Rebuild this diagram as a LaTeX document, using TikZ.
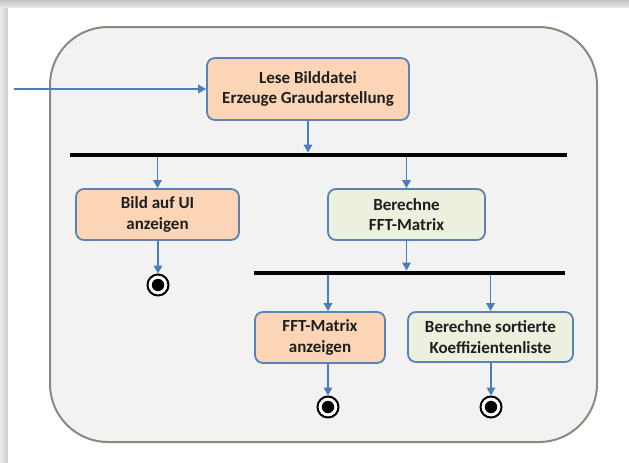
\documentclass[tikz,border=0pt]{standalone}
\usepackage{fontspec}
\setmainfont{Carlito}
\usetikzlibrary{arrows.meta}
\definecolor{framefill}{HTML}{F2F2F2}
\definecolor{frameline}{HTML}{8A8A7C}
\definecolor{peach}{HTML}{FBD5B5}
\definecolor{palegreen}{HTML}{EBF1DE}
\definecolor{boxline}{HTML}{5A82B6}
\definecolor{flowblue}{HTML}{4A7EBB}
\definecolor{ink}{HTML}{1E1E1E}
\tikzset{
  action/.style={draw=boxline, line width=1.8pt, rounded corners=8pt,
    align=center, font=\bfseries\fontsize{17}{20.5}\selectfont, text=ink,
    inner sep=0pt},
  calc/.style={action, fill=palegreen},
  show/.style={action, fill=peach},
  forkbar/.style={fill=black, inner sep=0pt, minimum height=4.5pt},
  final/.style={circle, draw=black, line width=2pt, fill=white,
    minimum size=21pt, inner sep=0pt,
    path picture={\fill[black] (path picture bounding box.center) circle (6.2);}},
  flow/.style={draw=flowblue, line width=1.8pt,
    -{Triangle[length=8pt,width=8.5pt]}},
}
\begin{document}
\begin{tikzpicture}[x=1pt,y=-1pt]
  \useasboundingbox (0,0) rectangle (629,463);
  % page card with soft shadow on top and left
  \fill[white] (0,0) rectangle (629,463);
  \shade[top color=gray!45, bottom color=gray!15] (0,0) rectangle (629,8);
  \shade[left color=gray!15, right color=gray!40] (0,8) rectangle (8,463);
  \fill[white] (8,8) rectangle (629,463);

  % activity frame
  \draw[fill=framefill, draw=frameline, line width=2pt, rounded corners=58pt]
    (50,27) rectangle (597,442);

  % actions
  \node[show, minimum width=202pt, minimum height=62pt] (read) at (308,89)
    {Lese Bilddatei\\Erzeuge Graudarstellung};
  \node[show, minimum width=163pt, minimum height=51pt] (ui) at (157.5,214.5)
    {Bild auf UI\\anzeigen};
  \node[calc, minimum width=157pt, minimum height=51pt] (fft) at (406.5,214.5)
    {Berechne\\FFT-Matrix};
  \node[show, minimum width=130pt, minimum height=51pt] (fftshow) at (320,337.5)
    {FFT-Matrix\\anzeigen};
  \node[calc, minimum width=165pt, minimum height=50pt] (coef) at (490.5,337)
    {Berechne sortierte\\Koeffizientenliste};

  % fork bars
  \node[forkbar, minimum width=497pt] (forka) at (318.5,155) {};
  \node[forkbar, minimum width=311pt] (forkb) at (409.5,273) {};

  % final states
  \node[final] (endui) at (158,285) {};
  \node[final] (endshow) at (328,407) {};
  \node[final] (endcoef) at (491,407) {};

  % control flow
  \coordinate (start) at (14,89);
  \draw[flow] (start) -- (read.west);
  \draw[flow] (read.south) -- (read.south |- forka.north);
  \draw[flow] (forka.south -| ui.north) -- (ui.north);
  \draw[flow] (forka.south -| fft.north) -- (fft.north);
  \draw[flow] (ui.south -| endui) -- (endui.north);
  \draw[flow] (fft.south) -- (fft.south |- forkb.north);
  \draw[flow] (forkb.south -| endshow) -- (fftshow.north -| endshow);
  \draw[flow] (forkb.south -| coef.north) -- (coef.north);
  \draw[flow] (fftshow.south -| endshow) -- (endshow.north);
  \draw[flow] (coef.south -| endcoef) -- (endcoef.north);
\end{tikzpicture}
\end{document}
